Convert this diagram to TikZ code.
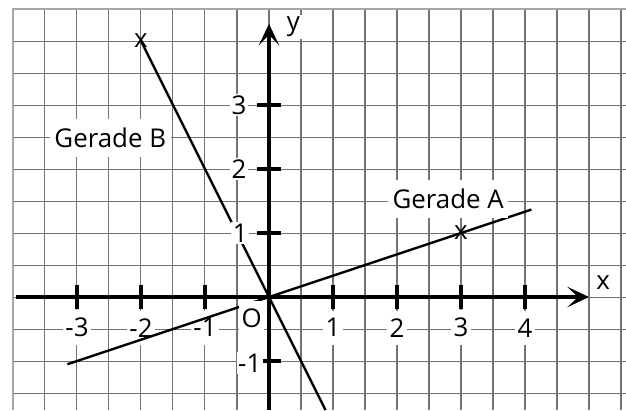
\documentclass[tikz,border=0pt]{standalone}
\usepackage{fontspec}
\setmainfont{Open Sans}
\usepackage{tikz}
\usetikzlibrary{positioning,arrows.meta,calc}

\begin{document}
\begin{tikzpicture}[
    x=1cm, y=1cm,
    gridline/.style={draw=black!55, line width=0.45pt},
    frameline/.style={draw=black!35, line width=1pt},
    axis/.style={line width=1.4pt, -{Stealth[length=3.4mm, width=3.2mm, inset=1.7mm]}},
    tick/.style={line width=1.6pt},
    gerade/.style={line width=1.05pt},
    txt/.style={font=\fontsize{11.5}{13}\selectfont},
    numlabel/.style={txt, fill=white, inner xsep=1pt, inner ysep=3.5pt},
    ynum/.style={txt, fill=white, inner sep=0.6pt},
    namelabel/.style={txt, fill=white, inner xsep=2pt, inner ysep=4pt},
    cross/.style={txt, inner sep=0pt},
]
\useasboundingbox (-4.203,-1.766) rectangle (5.578,4.641);

% Grid
\foreach \gx in {-3.5,-3,...,5.5}
    \draw[gridline] (\gx,-1.766) -- (\gx,4.5);
\foreach \gy in {-1.5,-1,...,4}
    \draw[gridline] (-4,\gy) -- (5.578,\gy);
\draw[frameline] (-4,-1.766) -- (-4,4.5) -- (5.578,4.5);

% Axes
\coordinate (xstart) at (-3.95,0);
\coordinate (xend) at (5.0,0);
\coordinate (ystart) at (0,-1.766);
\coordinate (yend) at (0,4.27);
\draw[axis] (xstart) -- (xend);
\draw[axis] (ystart) -- (yend);
\node[txt, fill=white, inner sep=1pt] (xlab) at (5.22,0.22) {x};
\node[txt, fill=white, inner sep=1pt] (ylab) at (0.38,4.22) {y};

% Ticks
\foreach \t in {-3,-2,-1,1,2,3,4}
    \draw[tick] (\t,-0.19) -- (\t,0.19);
\foreach \t in {-1,1,2,3}
    \draw[tick] (-0.19,\t) -- (0.19,\t);

% Gerade B
\coordinate (b1) at (-2,4);
\coordinate (b2) at (0.883,-1.766);
\draw[gerade] (b1) -- (b2);

% Tick labels
\foreach \t in {-3,-2,-1,1,2,3,4}
    \node[numlabel] (xn\t) at (\t,-0.48) {\t};
\node[ynum] (yn3) at (-0.47,3.0) {3};
\node[ynum] (yn2) at (-0.47,2.0) {2};
\node[ynum] (yn1) at (-0.45,1.0) {1};
\node[ynum] (ynm1) at (-0.3,-1.03) {-1};

% Gerade A
\coordinate (a1) at (-3.15,-1.05);
\coordinate (a2) at (4.1,1.367);
\draw[gerade] (a1) -- (a2);

% Origin
\node[numlabel] (orig) at (-0.27,-0.33) {O};

% Names
\node[namelabel] (gerA) at (2.8,1.53) {Gerade A};
\node[namelabel] (gerB) at (-2.48,2.49) {Gerade B};

% Points
\node[cross] (pB) at (-2,4) {x};
\node[cross] (pA) at (3,1) {x};

\end{tikzpicture}
\end{document}
